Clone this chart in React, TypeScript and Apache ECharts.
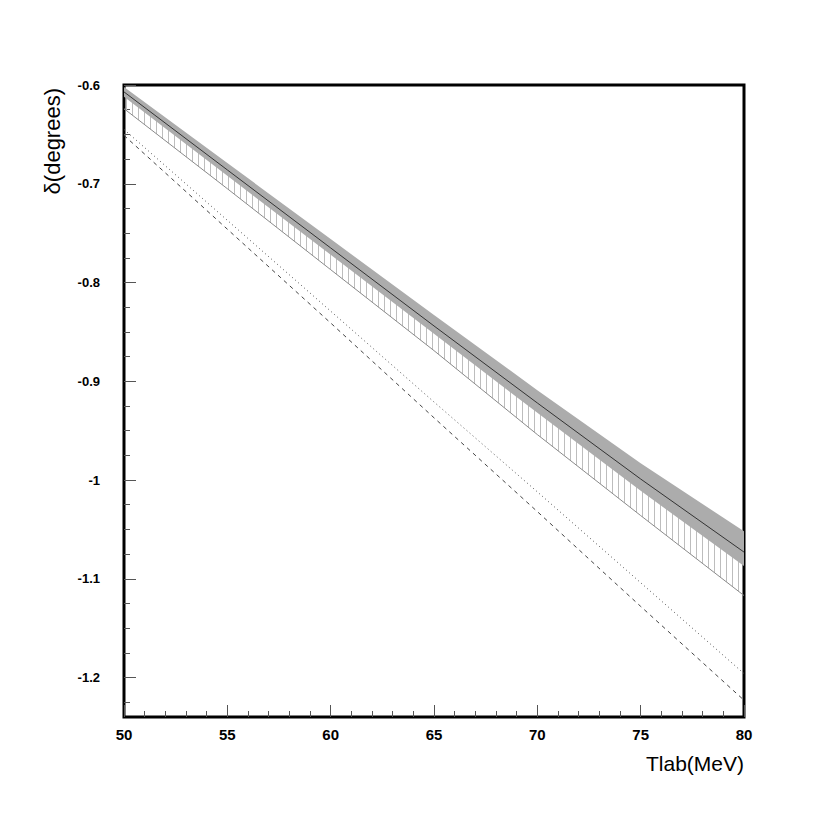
import React, { useEffect, useRef } from 'react';
import * as echarts from 'echarts';

// Tlab (MeV) sample points
const tlab = [50, 55, 60, 65, 70, 75, 80];
// grey band (upper / central / lower)
const bandUpper = [-0.602, -0.679, -0.756, -0.833, -0.909, -0.983, -1.052];
const central = [-0.607, -0.686, -0.765, -0.844, -0.922, -0.999, -1.073];
const bandLower = [-0.612, -0.692, -0.772, -0.852, -0.932, -1.011, -1.087];
// hatched band lower boundary
const hatchLower = [-0.624, -0.705, -0.787, -0.869, -0.954, -1.036, -1.117];
// dotted and dashed curves
const dotted = [-0.645, -0.737, -0.829, -0.921, -1.012, -1.104, -1.196];
const dashed = [-0.651, -0.746, -0.841, -0.937, -1.032, -1.128, -1.223];

const yMajorTicks = [-1.2, -1.1, -1, -0.9, -0.8, -0.7, -0.6];
const yMinorTicks = [
  -1.225, -1.175, -1.15, -1.125, -1.075, -1.05, -1.025, -0.975, -0.95, -0.925,
  -0.875, -0.85, -0.825, -0.775, -0.75, -0.725, -0.675, -0.65, -0.625,
];

const pairs = (ys: number[]) => tlab.map((t, i) => [t, ys[i]]);

export default function App() {
  const ref = useRef<HTMLDivElement>(null);
  useEffect(() => {
    if (!ref.current) return;
    const chart = echarts.init(ref.current, undefined, { renderer: 'svg' });

    const c = document.createElement('canvas');
    c.width = 6;
    c.height = 6;
    const ctx = c.getContext('2d');
    if (ctx) {
      ctx.fillStyle = '#bdbdbd';
      ctx.fillRect(0, 0, 1, 6);
    }
    const hatchFill: any = { image: c, repeat: 'repeat', imageWidth: 6, imageHeight: 6 };

    const polygonItem = (upper: number[], lower: number[], style: any) => (params: any, api: any) => {
      const pts: number[][] = [];
      for (let i = 0; i < tlab.length; i++) pts.push(api.coord([tlab[i], upper[i]]));
      for (let i = tlab.length - 1; i >= 0; i--) pts.push(api.coord([tlab[i], lower[i]]));
      return { type: 'polygon', shape: { points: pts }, style };
    };

    const font = 'Liberation Sans, Arial, sans-serif';

    chart.setOption({
      animation: false,
      backgroundColor: '#fff',
      grid: {
        left: 124,
        right: 86,
        top: 85,
        bottom: 113,
        show: true,
        borderColor: '#000',
        borderWidth: 3,
        backgroundColor: 'transparent',
      },
      xAxis: {
        type: 'value',
        min: 50,
        max: 80,
        interval: 5,
        axisLine: { show: false },
        axisTick: { show: true, inside: true, length: 12, lineStyle: { color: '#555', width: 1 } },
        minorTick: { show: true, splitNumber: 5, length: 6, lineStyle: { color: '#555', width: 1 } },
        splitLine: { show: false },
        axisLabel: { margin: 10, color: '#000', fontFamily: font, fontWeight: 'bold', fontSize: 15 },
      },
      yAxis: [
        {
          type: 'value',
          min: -1.24,
          max: -0.6,
          axisLine: { show: false },
          splitLine: { show: false },
          axisTick: {
            show: true,
            inside: true,
            length: 12,
            customValues: yMajorTicks,
            lineStyle: { color: '#555', width: 1 },
          },
          axisLabel: {
            customValues: yMajorTicks,
            margin: 24,
            color: '#000',
            fontFamily: font,
            fontWeight: 'bold',
            fontSize: 13,
            formatter: (v: number) => String(Math.round(v * 10) / 10),
          },
        },
        {
          type: 'value',
          min: -1.24,
          max: -0.6,
          position: 'left',
          axisLine: { show: false },
          splitLine: { show: false },
          axisLabel: { show: false },
          axisTick: {
            show: true,
            inside: true,
            length: 6,
            customValues: yMinorTicks,
            lineStyle: { color: '#555', width: 1 },
          },
        },
      ],
      graphic: [
        {
          type: 'text',
          x: 52,
          y: 88,
          rotation: Math.PI / 2,
          style: {
            text: 'δ(degrees)',
            font: `22px ${font}`,
            fill: '#000',
            align: 'right',
            verticalAlign: 'middle',
          },
        },
        {
          type: 'text',
          x: 744,
          y: 763,
          style: {
            text: 'Tlab(MeV)',
            font: `21px ${font}`,
            fill: '#000',
            align: 'right',
            verticalAlign: 'middle',
          },
        },
      ],
      series: [
        {
          type: 'custom',
          name: 'hatched band',
          data: [[65, -0.9]],
          clip: true,
          renderItem: polygonItem(central, hatchLower, { fill: hatchFill, stroke: 'none' }),
          z: 1,
        },
        {
          type: 'custom',
          name: 'grey band',
          data: [[65, -0.9]],
          clip: true,
          renderItem: polygonItem(bandUpper, bandLower, { fill: '#acacac', stroke: 'none' }),
          z: 2,
        },
        {
          type: 'line',
          name: 'hatched lower',
          data: pairs(hatchLower),
          showSymbol: false,
          lineStyle: { color: '#8a8a8a', width: 1 },
          z: 3,
        },
        {
          type: 'line',
          name: 'central',
          data: pairs(central),
          showSymbol: false,
          lineStyle: { color: '#333', width: 1 },
          z: 4,
        },
        {
          type: 'line',
          name: 'dotted',
          data: pairs(dotted),
          showSymbol: false,
          lineStyle: { color: '#555', width: 1, type: [1, 3] },
          z: 4,
        },
        {
          type: 'line',
          name: 'dashed',
          data: pairs(dashed),
          showSymbol: false,
          lineStyle: { color: '#444', width: 1, type: [4, 4] },
          z: 4,
        },
      ],
    });
    return () => chart.dispose();
  }, []);
  return (
    <div
      ref={ref}
      style={{ position: 'fixed', left: 0, top: 0, width: 830, height: 830, background: '#fff' }}
    />
  );
}
